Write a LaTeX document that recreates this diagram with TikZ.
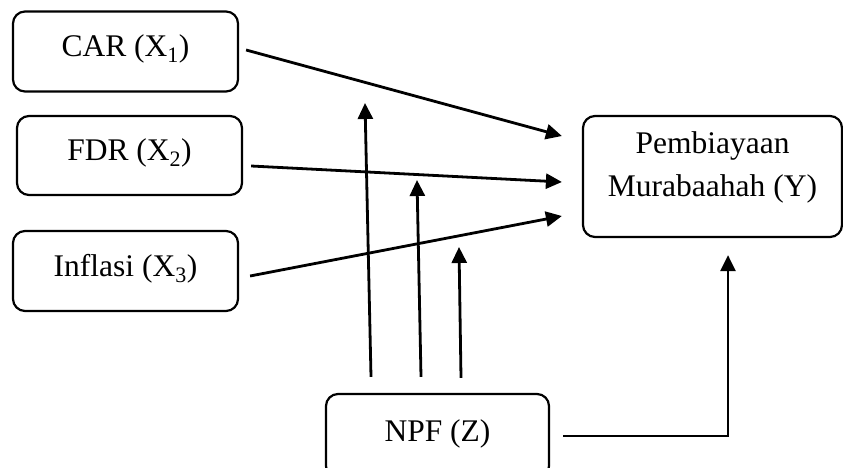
\documentclass[tikz,border=0pt]{standalone}
\usepackage{fontspec}
\setmainfont{Liberation Serif}
\usetikzlibrary{arrows.meta}
\tikzset{
  box/.style={draw, line width=2.2pt, rounded corners=12pt, inner sep=0pt,
    font=\fontsize{31.5}{43}\selectfont, align=center},
  onebox/.style={box, text height=22pt, text depth=12pt},
  txt/.style={inner sep=0pt, font=\fontsize{31.5}{43}\selectfont, align=center},
  arr/.style={line width=2.8pt, -{Triangle[length=16pt,width=15pt]}}
}
\begin{document}
\begin{tikzpicture}[x=1pt,y=-1pt]
\useasboundingbox (0,0) rectangle (843,468);
\clip (0,0) rectangle (843,468);
\node[onebox, minimum width=225pt, minimum height=80pt] (car) at (125.5,51.5) {CAR (X\textsubscript{1})};
\node[onebox, minimum width=225pt, minimum height=79pt] (fdr) at (129.5,155.5) {FDR (X\textsubscript{2})};
\node[onebox, minimum width=225pt, minimum height=80pt] (inf) at (125.5,271) {Inflasi (X\textsubscript{3})};
\node[box, minimum width=259pt, minimum height=121pt] (y) at (712.5,176.5) {};
\node[txt] (ylab) at (712.5,167.5) {Pembiayaan\\Murabaahah (Y)};
\node[onebox, minimum width=223pt, minimum height=84pt] (npf) at (437.5,436) {NPF (Z)};
\coordinate (v1) at (365,103);
\coordinate (v2) at (417,180);
\coordinate (v3) at (459,247);
\draw[arr] ([xshift=7pt,yshift=1.5pt]car.east) -- ([xshift=-20pt,yshift=40.5pt]y.west);
\draw[arr] ([xshift=8pt,yshift=-10.5pt]fdr.east) -- ([xshift=-20pt,yshift=-5.5pt]y.west);
\draw[arr] ([xshift=11pt,yshift=-5pt]inf.east) -- ([xshift=-20pt,yshift=-39.5pt]y.west);
\draw[arr] ([xshift=-66.5pt,yshift=16pt]npf.north) -- (v1);
\draw[arr] ([xshift=-16.5pt,yshift=16pt]npf.north) -- (v2);
\draw[arr] ([xshift=23.5pt,yshift=15pt]npf.north) -- (v3);
\draw[arr] ([xshift=13pt]npf.east) -| ([xshift=15.5pt,yshift=-17pt]y.south);
\end{tikzpicture}
\end{document}
